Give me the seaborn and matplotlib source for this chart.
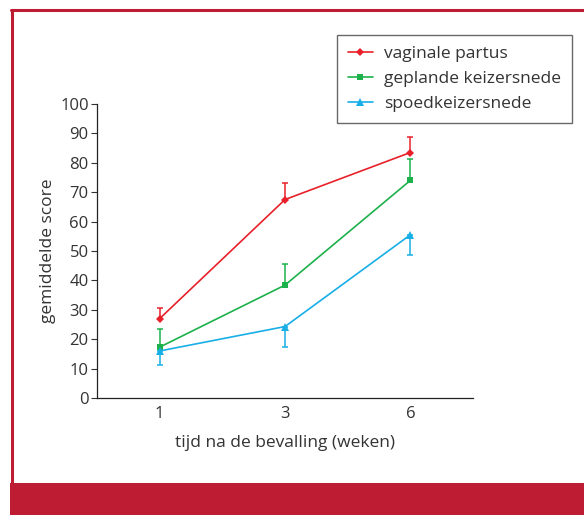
import matplotlib
matplotlib.use("Agg")
import matplotlib.pyplot as plt
import matplotlib.patches as mpatches
import matplotlib.lines as mlines
import seaborn as sns
import pandas as pd
import numpy as np

sns.set_style("white")
plt.rcParams['font.family'] = ['Open Sans', 'DejaVu Sans']

weeks = ["1", "3", "6"]
series = ["vaginale partus", "geplande keizersnede", "spoedkeizersnede"]
vaginal = [27, 67.5, 83.5]
planned = [17.3, 38.4, 74]
emergency = [16, 24.3, 55.5]
vaginal_err_up = [3.7, 5.5, 5.2]
planned_err_up = [6.1, 7.1, 7.3]
emergency_err_down = [4.7, 6.9, 6.9]

colors = {"vaginale partus": "#e8202a", "geplande keizersnede": "#1db14b", "spoedkeizersnede": "#18aee6"}
markers = {"vaginale partus": "D", "geplande keizersnede": "s", "spoedkeizersnede": "^"}
msizes = {"vaginale partus": 4.3, "geplande keizersnede": 5, "spoedkeizersnede": 5.8}

rows = []
for name, vals in zip(series, [vaginal, planned, emergency]):
    for i, (w, v) in enumerate(zip(weeks, vals)):
        rows.append({"week": w, "pos": i + 0.5, "score": v, "group": name})
df = pd.DataFrame(rows)

fig = plt.figure(figsize=(5.84, 5.15), dpi=100)
ax = fig.add_axes([97/584, 1-398/515, (473-97)/584, (398-104)/515])

errs = {"vaginale partus": ([0]*3, vaginal_err_up),
        "geplande keizersnede": ([0]*3, planned_err_up),
        "spoedkeizersnede": (emergency_err_down, [0]*3)}
for name in series:
    sub = df[df.group == name]
    ax.errorbar(sub["pos"], sub["score"], yerr=[errs[name][0], errs[name][1]],
                fmt="none", ecolor=colors[name], elinewidth=1.1, capsize=2.5, capthick=1.1, zorder=2)

for name in series:
    sub = df[df.group == name]
    sns.lineplot(data=sub, x="pos", y="score", color=colors[name], marker=markers[name],
                 markersize=msizes[name], markeredgewidth=0, linewidth=1.2, ax=ax,
                 legend=False, zorder=3)

ax.set_xlim(0, 3)
ax.set_ylim(0, 100)
ax.set_yticks(np.arange(0, 101, 10))
ax.set_xticks([0, 1, 2, 3])
ax.set_xticklabels([])
ax.set_xticks([0.5, 1.5, 2.5], minor=True)
ax.set_xticklabels(weeks, minor=True)
ax.tick_params(axis="x", which="major", direction="out", length=5, width=0.8, color="#333333")
ax.tick_params(axis="x", which="minor", length=0, labelsize=12, pad=6, labelcolor="#333333")
ax.tick_params(axis="y", direction="out", length=4, width=0.8, labelsize=12, pad=2, color="#333333", labelcolor="#333333", left=True)
for s in ["top", "right"]:
    ax.spines[s].set_visible(False)
for s in ["left", "bottom"]:
    ax.spines[s].set_color("#222222")
    ax.spines[s].set_linewidth(0.9)
ax.set_xlabel("tijd na de bevalling (weken)", fontsize=12.5, color="#333333", labelpad=9)
ax.set_ylabel("gemiddelde score", fontsize=12.5, color="#333333", labelpad=3)
ax.set_facecolor("none")

handles = [mlines.Line2D([], [], color=colors[n], marker=markers[n], markersize=msizes[n], markeredgewidth=0, lw=1.2) for n in series]
leg = fig.legend(handles, series, loc="upper left", bbox_to_anchor=(337/584, 1-35/515),
                 frameon=True, fancybox=False, fontsize=12.5, handlelength=1.4,
                 borderpad=0.65, labelspacing=0.5, handletextpad=0.65, borderaxespad=0)
leg.get_frame().set_edgecolor("#444444")
leg.get_frame().set_linewidth(1.0)
for t in leg.get_texts():
    t.set_color("#333333")

frame_red = "#bd1c32"
fig.add_artist(mlines.Line2D([12/584, 12/584], [1-483/515, 1-10/515], color=frame_red, lw=2.2, transform=fig.transFigure))
fig.add_artist(mlines.Line2D([11/584, 1.0], [1-10/515, 1-10/515], color=frame_red, lw=2.2, transform=fig.transFigure))
fig.add_artist(mpatches.Rectangle((10/584, 0), 1 - 10/584, (515-483)/515, color=frame_red, transform=fig.transFigure, lw=0))

fig.savefig("out.png", dpi=100)
